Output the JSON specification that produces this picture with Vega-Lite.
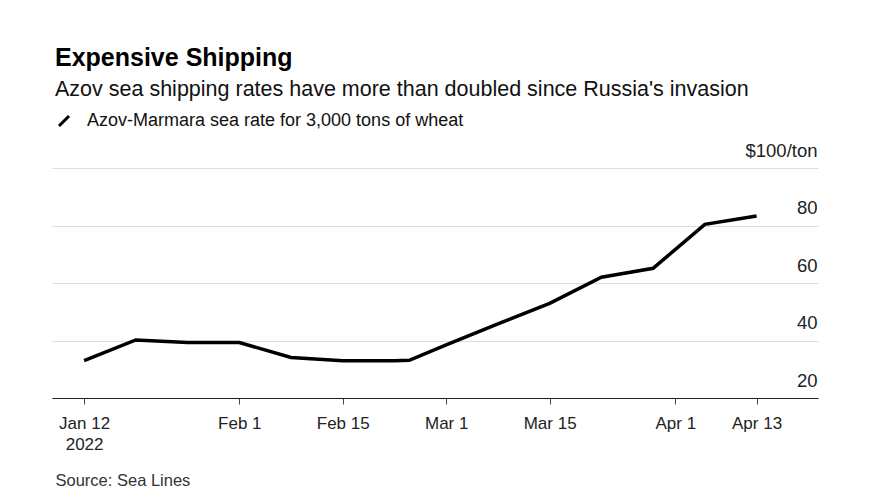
{
  "$schema": "https://vega.github.io/schema/vega-lite/v6.json",
  "width": 766,
  "height": 230,
  "autosize": {"type": "none"},
  "padding": {"left": 52, "top": 168, "right": 52, "bottom": 104},
  "background": "white",
  "config": {"font": "Liberation Sans", "view": {"stroke": null}},
  "title": {
    "text": "Expensive Shipping",
    "subtitle": "Azov sea shipping rates have more than doubled since Russia's invasion",
    "anchor": "start",
    "frame": "group",
    "fontSize": 25,
    "fontWeight": "bold",
    "color": "#000000",
    "subtitleFontSize": 21.5,
    "subtitleColor": "#111111",
    "subtitlePadding": 8,
    "offset": 12,
    "dx": 3
  },
  "data": {
    "values": [
      {"date": "2022-01-11", "rate": 33.0},
      {"date": "2022-01-18", "rate": 40.2},
      {"date": "2022-01-25", "rate": 39.3},
      {"date": "2022-02-01", "rate": 39.3},
      {"date": "2022-02-08", "rate": 34.1},
      {"date": "2022-02-15", "rate": 33.0},
      {"date": "2022-02-22", "rate": 33.0},
      {"date": "2022-02-24", "rate": 33.1},
      {"date": "2022-03-01", "rate": 38.5},
      {"date": "2022-03-08", "rate": 45.8},
      {"date": "2022-03-15", "rate": 52.9},
      {"date": "2022-03-22", "rate": 62.0},
      {"date": "2022-03-29", "rate": 65.1},
      {"date": "2022-04-05", "rate": 80.4},
      {"date": "2022-04-12", "rate": 83.3}
    ]
  },
  "mark": {"type": "line", "strokeWidth": 3.5},
  "encoding": {
    "x": {
      "field": "date",
      "type": "temporal",
      "scale": {
        "type": "utc",
        "domain": [
          {"year": 2022, "month": 1, "date": 6, "hours": 15, "minutes": 43, "utc": true},
          {"year": 2022, "month": 4, "date": 20, "hours": 7, "minutes": 30, "utc": true}
        ]
      },
      "axis": {
        "values": [
          {"year": 2022, "month": 1, "date": 11, "utc": true},
          {"year": 2022, "month": 2, "date": 1, "utc": true},
          {"year": 2022, "month": 2, "date": 15, "utc": true},
          {"year": 2022, "month": 3, "date": 1, "utc": true},
          {"year": 2022, "month": 3, "date": 15, "utc": true},
          {"year": 2022, "month": 4, "date": 1, "utc": true},
          {"year": 2022, "month": 4, "date": 12, "utc": true}
        ],
        "labelExpr": "utcmonth(datum.value) == 0 ? ['Jan 12', '2022'] : (utcmonth(datum.value) == 3 && utcdate(datum.value) == 12 ? 'Apr 13' : utcFormat(datum.value, '%b %-d'))",
        "labelFlush": false,
        "labelOverlap": false,
        "labelFontSize": 17,
        "labelColor": "#222222",
        "labelPadding": 11,
        "labelLineHeight": 21.5,
        "grid": false,
        "domainColor": "#222222",
        "domainWidth": 1.2,
        "tickColor": "#444444",
        "tickSize": 6,
        "title": "Source: Sea Lines",
        "titleAnchor": "start",
        "titleAlign": "left",
        "titleX": 3,
        "titleY": 87,
        "titleBaseline": "alphabetic",
        "titleFontSize": 16.5,
        "titleFontWeight": "normal",
        "titleColor": "#333333"
      }
    },
    "y": {
      "field": "rate",
      "type": "quantitative",
      "scale": {"domain": [20, 100], "nice": false, "zero": false},
      "axis": {
        "orient": "right",
        "values": [20, 40, 60, 80, 100],
        "title": null,
        "domain": false,
        "ticks": false,
        "grid": true,
        "gridColor": "#dddddd",
        "labelAlign": "right",
        "labelBaseline": "alphabetic",
        "labelPadding": -1,
        "labelOffset": -12,
        "labelFontSize": 18.5,
        "labelColor": "#222222",
        "labelExpr": "datum.value == 100 ? '$100/ton' : datum.label"
      }
    },
    "color": {
      "datum": "Azov-Marmara sea rate for 3,000 tons of wheat",
      "type": "nominal",
      "scale": {"range": ["#000000"]},
      "legend": {
        "orient": "none",
        "legendX": 3,
        "legendY": -56,
        "title": null,
        "padding": 0,
        "symbolType": "M-1,1L1,-1",
        "symbolSize": 100,
        "symbolStrokeWidth": 3,
        "symbolStrokeColor": "#000000",
        "symbolFillColor": "transparent",
        "labelFontSize": 18,
        "labelLimit": 0,
        "labelColor": "#111111",
        "labelOffset": 14
      }
    }
  }
}
